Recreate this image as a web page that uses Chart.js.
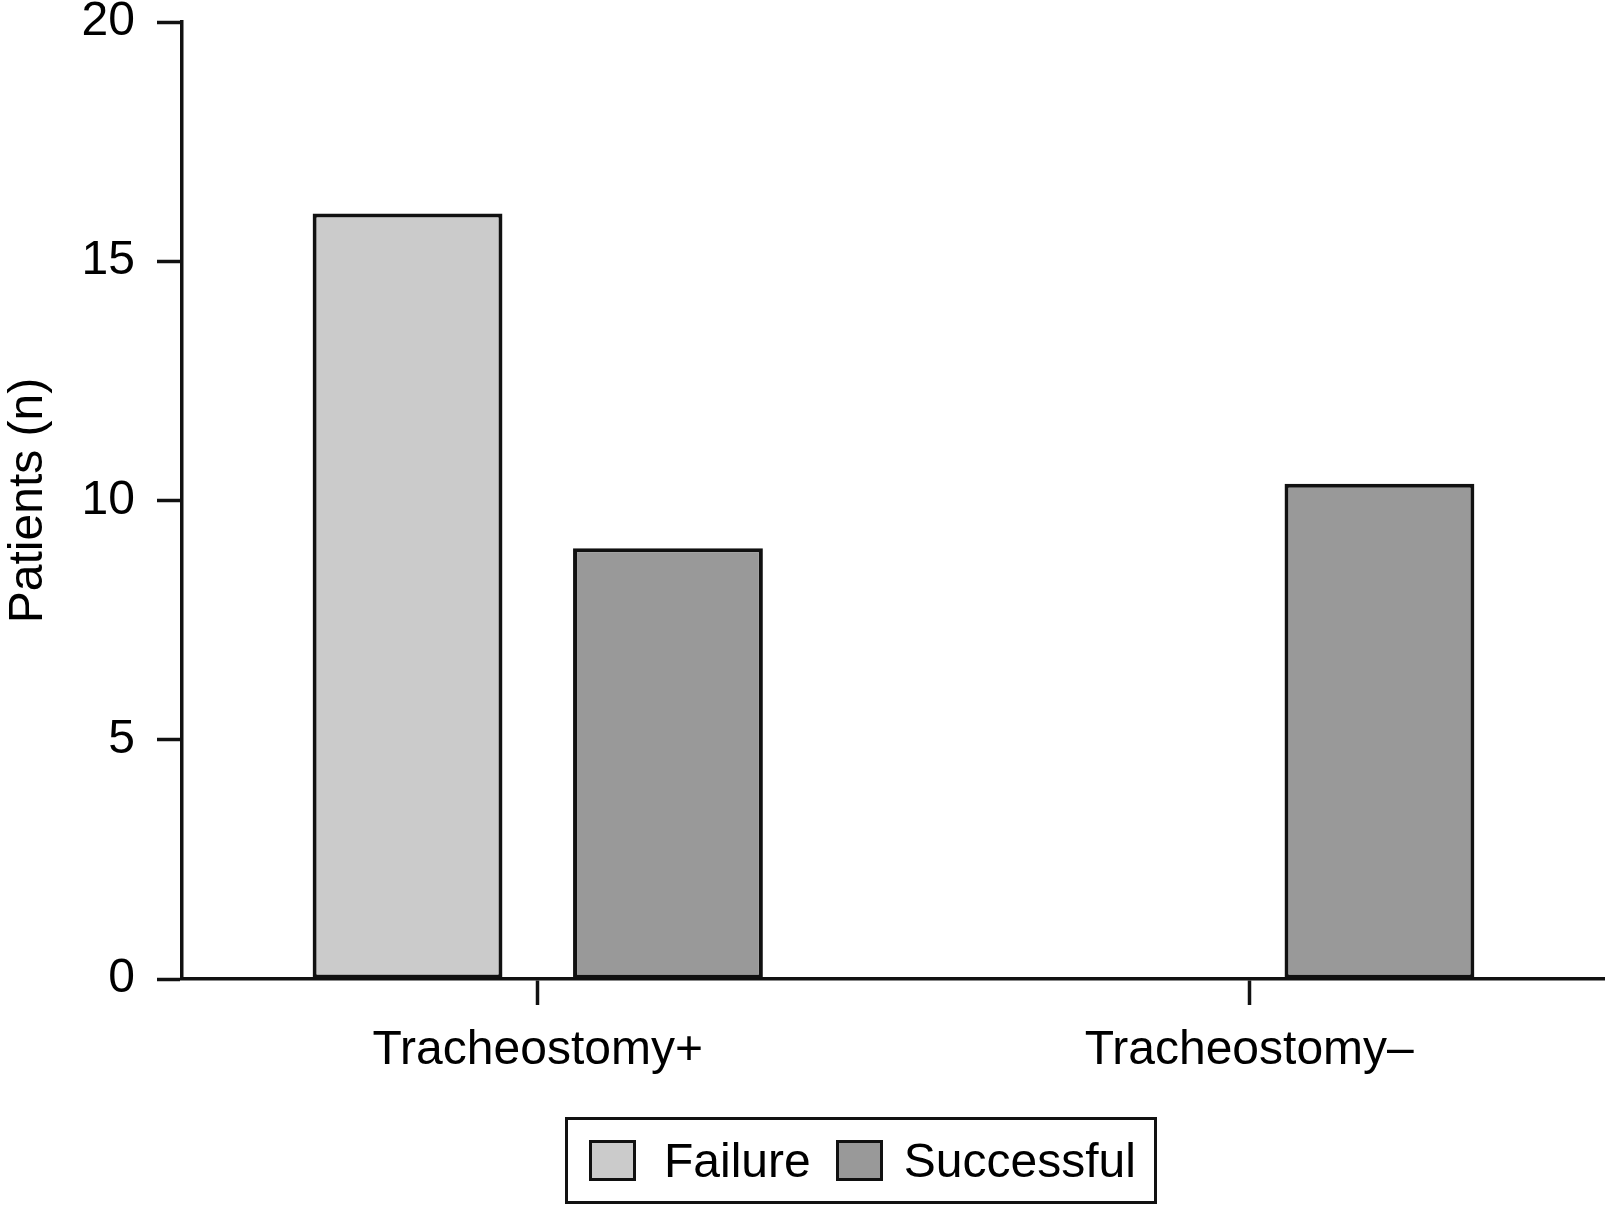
<!DOCTYPE html>
<html>
<head>
<meta charset="utf-8">
<script src="https://cdn.jsdelivr.net/npm/chart.js@4.4.1/dist/chart.umd.min.js"></script>
<style>
  html, body { margin:0; padding:0; background:#fff; }
  #wrap { position:relative; width:1605px; height:1208px; }
  #legend {
    position:absolute; left:565px; top:1117px; width:586px; height:81px;
    border:3px solid #111; display:flex; align-items:center;
    font-family:"Liberation Sans", Arial, Helvetica, sans-serif; font-size:48px; color:#000;
  }
  #legend .sw { width:41px; height:35px; border:3px solid #111; flex:none; }
  #legend .lb { white-space:nowrap; }
</style>
</head>
<body>
<div id="wrap">
  <canvas id="chart"></canvas>
  <div id="legend"></div>
</div>
<script>
/* data */
const categories = ['Tracheostomy+', 'Tracheostomy\u2013'];
const failure    = [16, 0];
const successful = [9, 10.35];
const yTicks     = [0, 5, 10, 15, 20];

const FONT = '"Liberation Sans", Arial, Helvetica, sans-serif';
const INK  = '#111';

const datasets = [
  { label:'Failure',    data:failure,    backgroundColor:'#cbcbcb' },
  { label:'Successful', data:successful, backgroundColor:'#999999' }
].map(d => Object.assign(d, {
  borderColor: INK, borderWidth: 4, borderSkipped: false,
  categoryPercentage: 0.732, barPercentage: 0.729
}));

const ctx = document.getElementById('chart').getContext('2d');
const chart = new Chart(ctx, {
  type: 'bar',
  data: { labels: categories, datasets },
  options: {
    responsive: true,
    maintainAspectRatio: false,
    animation: false,
    devicePixelRatio: 1,
    layout: { padding: { top:22, left:0, right:0, bottom:0 } },
    plugins: { legend:{ display:false }, tooltip:{ enabled:false } },
    scales: {
      x: {
        afterFit: s => { s.height = 229; s.paddingLeft = 0; s.paddingRight = 0; },
        grid: { display:true, drawOnChartArea:false, offset:false, tickLength:26, tickWidth:3.5, tickColor:INK },
        border: { display:true, color:INK, width:3.5 },
        ticks: { color:'#000', padding:17, font:{ family:FONT, size:48 } }
      },
      y: {
        min: 0, max: 20,
        afterFit: s => { s.width = 182; s.paddingTop = 0; s.paddingBottom = 0; },
        afterBuildTicks: s => { s.ticks = yTicks.map(v => ({ value:v })); },
        grid: { display:true, drawOnChartArea:false, tickLength:25, tickWidth:3.5, tickColor:INK },
        border: { display:true, color:INK, width:3.5 },
        ticks: { color:'#000', padding:22, font:{ family:FONT, size:48 } },
        title: { display:true, text:'Patients (n)', color:'#000', padding:0,
                 font:{ family:FONT, size:48, lineHeight:1.2 } }
      }
    }
  }
});

/* legend built from the datasets */
const legendEl = document.getElementById('legend');
const gaps = [[21, 28], [25, 21]];
chart.data.datasets.forEach((d, i) => {
  const sw = document.createElement('div');
  sw.className = 'sw';
  sw.style.background = d.backgroundColor;
  sw.style.marginLeft = gaps[i][0] + 'px';
  const lb = document.createElement('span');
  lb.className = 'lb';
  lb.textContent = d.label;
  lb.style.marginLeft = gaps[i][1] + 'px';
  legendEl.appendChild(sw);
  legendEl.appendChild(lb);
});
</script>
</body>
</html>
